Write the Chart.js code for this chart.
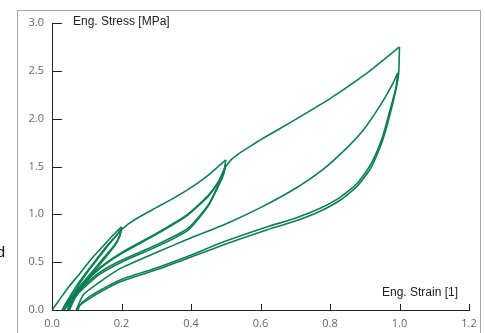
<!DOCTYPE html>
<html>
<head>
<meta charset="utf-8">
<script src="https://cdn.jsdelivr.net/npm/chart.js@4.4.1/dist/chart.umd.min.js"></script>
<style>
  html, body { margin: 0; padding: 0; background: #fff; }
  #wrap { width: 485px; height: 333px; position: relative; }
</style>
</head>
<body>
<div id="wrap"><canvas id="chart-stress" width="485" height="333"></canvas></div>
<script>
// cyclic tensile test, [strain, stress] pairs per branch
const loadTo02 = [[0, 0], [0.02, 0.1], [0.05, 0.25], [0.08, 0.38], [0.11, 0.52], [0.14, 0.64], [0.17, 0.76], [0.2, 0.87]];
const unload02a = [[0.2, 0.87], [0.195, 0.78], [0.18, 0.68], [0.15, 0.55], [0.12, 0.42], [0.09, 0.29], [0.06, 0.16], [0.04, 0.07], [0.03, 0]];
const reload02a = [[0.03, 0], [0.045, 0.1], [0.07, 0.25], [0.1, 0.4], [0.13, 0.54], [0.16, 0.68], [0.19, 0.8], [0.2, 0.85]];
const unload02b = [[0.2, 0.85], [0.195, 0.77], [0.18, 0.67], [0.15, 0.53], [0.12, 0.4], [0.09, 0.27], [0.06, 0.14], [0.045, 0.05], [0.035, 0]];
const reload02b = [[0.035, 0], [0.05, 0.1], [0.075, 0.25], [0.105, 0.41], [0.135, 0.55], [0.165, 0.69], [0.2, 0.84]];

const loadTo05 = [[0.2, 0.84], [0.22, 0.9], [0.25, 0.97], [0.3, 1.07], [0.35, 1.17], [0.4, 1.28], [0.45, 1.41], [0.5, 1.57]];
const unload05a = [[0.5, 1.57], [0.495, 1.45], [0.483, 1.34], [0.45, 1.1], [0.39, 0.85], [0.3, 0.68], [0.2, 0.52], [0.14, 0.4], [0.1, 0.28], [0.07, 0.17], [0.05, 0.06], [0.045, 0]];
const reload05a = [[0.045, 0], [0.06, 0.12], [0.09, 0.28], [0.14, 0.45], [0.2, 0.6], [0.3, 0.8], [0.39, 1.0], [0.45, 1.2], [0.48, 1.35], [0.5, 1.51]];
const unload05b = [[0.5, 1.51], [0.494, 1.42], [0.482, 1.32], [0.45, 1.09], [0.39, 0.83], [0.3, 0.66], [0.2, 0.5], [0.14, 0.38], [0.1, 0.26], [0.07, 0.15], [0.055, 0.05], [0.05, 0]];
const reload05b = [[0.05, 0], [0.065, 0.12], [0.095, 0.28], [0.14, 0.44], [0.2, 0.59], [0.3, 0.79], [0.39, 0.99], [0.45, 1.19], [0.48, 1.34], [0.5, 1.5]];

const loadTo10 = [[0.5, 1.5], [0.515, 1.57], [0.54, 1.64], [0.57, 1.71], [0.61, 1.8], [0.7, 1.99], [0.8, 2.21], [0.9, 2.46], [1.0, 2.75]];
const unload10a = [[1.0, 2.75], [0.997, 2.45], [0.98, 2.15], [0.952, 1.78], [0.92, 1.5], [0.88, 1.3], [0.83, 1.15], [0.77, 1.03], [0.7, 0.93], [0.62, 0.84], [0.5, 0.69], [0.39, 0.54], [0.3, 0.42], [0.2, 0.3], [0.14, 0.19], [0.1, 0.1], [0.08, 0.05], [0.07, 0]];
const reload10 = [[0.07, 0], [0.09, 0.16], [0.14, 0.3], [0.2, 0.44], [0.3, 0.6], [0.39, 0.74], [0.5, 0.9], [0.6, 1.07], [0.7, 1.27], [0.78, 1.47], [0.85, 1.7], [0.9, 1.9], [0.95, 2.17], [0.98, 2.36], [0.995, 2.48]];
const unload10b = [[0.995, 2.48], [0.99, 2.33], [0.975, 2.12], [0.952, 1.82], [0.92, 1.54], [0.88, 1.33], [0.83, 1.18], [0.77, 1.06], [0.7, 0.96], [0.62, 0.87], [0.5, 0.72], [0.39, 0.56], [0.3, 0.44], [0.2, 0.32], [0.14, 0.21], [0.1, 0.12], [0.08, 0.05], [0.075, 0]];

const branches = [
  loadTo02, unload02a, reload02a, unload02b, reload02b,
  loadTo05, unload05a, reload05a, unload05b, reload05b,
  loadTo10, unload10a, reload10, unload10b
];

const xTicks = [0, 0.2, 0.4, 0.6, 0.8, 1.0, 1.2];
const yTicks = [0, 0.5, 1.0, 1.5, 2.0, 2.5, 3.0];
const xTitle = 'Eng. Strain [1]';
const yTitle = 'Eng. Stress [MPa]';

const LINE = '#0d7f52';
const AXIS = '#222';

// frame, inward tick marks and axis titles
const decor = {
  id: 'decor',
  beforeDraw(chart) {
    const ctx = chart.ctx;
    ctx.save();
    ctx.strokeStyle = '#a8a8a8';
    ctx.lineWidth = 1;
    ctx.strokeRect(17.5, 10.5, 463, 340);
    ctx.restore();
  },
  afterDraw(chart) {
    const ctx = chart.ctx;
    const { x, y } = chart.scales;
    const area = chart.chartArea;
    ctx.save();
    ctx.strokeStyle = AXIS;
    ctx.lineWidth = 1;
    ctx.beginPath();
    yTicks.forEach(v => {
      const py = Math.round(y.getPixelForValue(v)) + 0.5;
      ctx.moveTo(area.left, py);
      ctx.lineTo(area.left + 10, py);
    });
    xTicks.forEach(v => {
      const px = Math.round(x.getPixelForValue(v)) + 0.5;
      ctx.moveTo(px, area.bottom);
      ctx.lineTo(px, area.bottom - 6);
    });
    ctx.stroke();

    ctx.fillStyle = '#222';
    ctx.font = '12px "Liberation Sans", Arial, sans-serif';
    ctx.textBaseline = 'middle';
    ctx.textAlign = 'left';
    ctx.fillText(yTitle, area.left + 21, y.getPixelForValue(3.0) - 1);
    ctx.textAlign = 'right';
    ctx.fillText(xTitle, x.getPixelForValue(1.2) - 11, area.bottom - 17);

    ctx.fillStyle = '#111';
    ctx.font = '15px "Liberation Sans", Arial, sans-serif';
    ctx.textBaseline = 'alphabetic';
    ctx.fillText('d', 5, 257);
    ctx.restore();
  }
};

new Chart(document.getElementById('chart-stress'), {
  type: 'scatter',
  data: {
    datasets: branches.map(b => ({
      data: b.map(([s, t]) => ({ x: s, y: t })),
      showLine: true,
      borderColor: LINE,
      borderWidth: 1.6,
      pointRadius: 0,
      tension: 0.2,
      fill: false
    }))
  },
  options: {
    responsive: false,
    animation: false,
    layout: { padding: { top: 23, right: 16, left: 0, bottom: 0 } },
    plugins: { legend: { display: false }, tooltip: { enabled: false } },
    scales: {
      x: {
        type: 'linear',
        min: 0,
        max: 1.2,
        afterFit: s => { s.height = 23; },
        afterBuildTicks: s => { s.ticks = xTicks.map(v => ({ value: v })); },
        grid: { display: false, drawTicks: false },
        border: { display: true, color: AXIS, width: 1 },
        ticks: {
          padding: 7,
          color: '#666',
          font: { family: '"Open Sans", sans-serif', size: 11 },
          callback: v => v.toFixed(1)
        }
      },
      y: {
        type: 'linear',
        min: 0,
        max: 3,
        afterFit: s => { s.width = 52; },
        afterBuildTicks: s => { s.ticks = yTicks.map(v => ({ value: v })); },
        grid: { display: false, drawTicks: false },
        border: { display: true, color: AXIS, width: 1 },
        ticks: {
          padding: 8,
          color: '#666',
          font: { family: '"Open Sans", sans-serif', size: 11 },
          callback: v => v.toFixed(1)
        }
      }
    }
  },
  plugins: [decor]
});
</script>
</body>
</html>
